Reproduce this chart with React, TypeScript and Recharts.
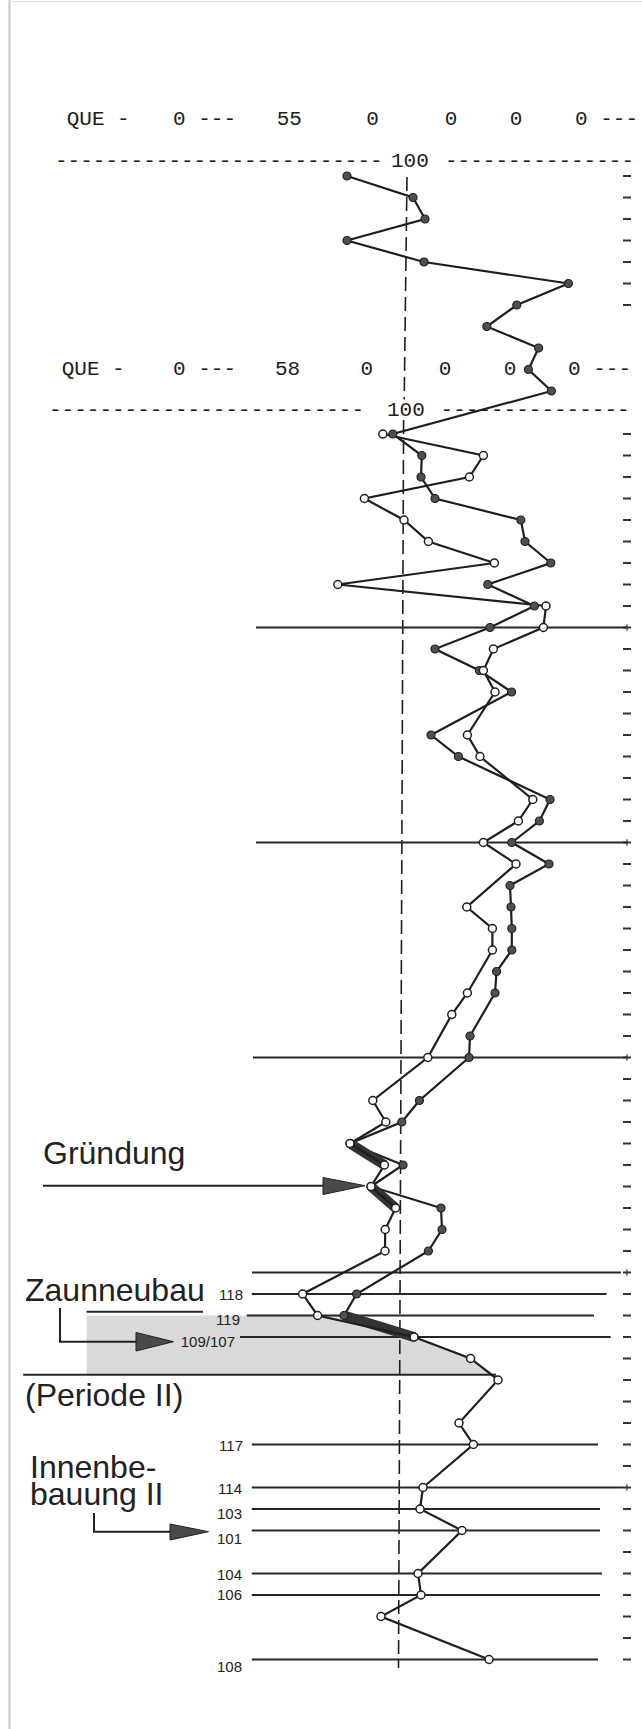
import React from 'react';
import { ComposedChart, XAxis, YAxis, Line, Area, ReferenceLine } from 'recharts';

// ---------- data (rows = ring/year rows from top, values = index, 100 = mean) ----------
const filledRows = [0, 1, 2, 3, 4, 5, 6, 7, 8, 9, 10, 12, 13, 14, 15, 16, 17, 18, 19, 20, 21, 22, 23, 24, 26, 27, 29, 30, 31, 32, 33, 34, 35, 36, 37, 38, 40, 41, 43, 44, 45, 46, 47, 48, 49, 50, 52, 53, 54];
const filledValues = [72, 105, 111, 72, 110.5, 182.7, 156.9, 141.9, 167.8, 162.7, 174.2, 94.9, 109.4, 109, 116, 158.9, 161, 173.9, 142.4, 165.7, 143.5, 116, 138.2, 154.3, 114, 127.7, 173.5, 168.2, 154.4, 173, 153.5, 154, 154.4, 154.4, 146.8, 146, 133.5, 133, 108.2, 99.4, 73.5, 100, 84, 119, 119.5, 112.7, 76.8, 70.5, 105.5];

const openRows = [12, 13, 14, 15, 16, 17, 18, 19, 20, 21, 22, 23, 24, 26, 27, 29, 30, 31, 32, 34, 35, 36, 38, 39, 41, 43, 44, 45, 46, 47, 48, 49, 50, 52, 53, 54, 55, 56, 58, 59, 61, 62, 63, 65, 66, 67, 69];
const openValues = [89.9, 140.2, 133.2, 80.7, 100.5, 112.7, 145.7, 67.4, 171.5, 170.2, 145.2, 140.2, 146, 132.2, 138.5, 164.9, 157.7, 140.2, 156.5, 131.9, 144.7, 144.7, 132.2, 124.4, 112.4, 84.9, 91.4, 73.5, 90.7, 84, 96.3, 91.1, 91, 49.8, 57.3, 105.5, 133.8, 147.5, 128, 135.2, 110, 108.5, 129.5, 107.5, 109, 89, 143];

// highlighted (thick) segments
const barRowsA = [45, 46];
const barValuesA = [73.5, 90.7];
const barRowsB = [47, 48];
const barValuesB = [84, 96.3];
const barRowsC = [53, 54];
const barValuesC = [70.5, 105.5];

// shaded band (Zaunneubau)
const shadeRows = [53, 54, 55, 55.75];
const shadeValues = [70.5, 105.5, 133.8, 146.5];

// right-hand row ticks
const tickRows = [0, 1, 2, 3, 4, 5, 6, ...Array.from({ length: 58 }, (_, i) => 12 + i)];
const plusRows = [21, 31, 41, 51, 61];

// texts
const header1 = ['QUE -', '0 ---', '55', '0', '0', '0', '0 ---'];
const header2 = ['QUE -', '0 ---', '58', '0', '0', '0', '0 ---'];
const lineLabels = ['118', '119', '109/107', '117', '114', '103', '101', '104', '106', '108'];

// ---------- layout ----------
const W = 642;
const H = 1729;
const X_MIN = -101.5;
const X_MAX = 219.5;
const TOP_PX = 176;
const ROW_PX = 21.5;
const Y_MIN = -TOP_PX / ROW_PX;
const Y_MAX = (H - TOP_PX) / ROW_PX;
const SHADE_BASE = -58.2;
const TICK_V = 212;

const pick = (rows: number[], vals: number[], r: number) => {
  const i = rows.indexOf(r);
  return i >= 0 ? vals[i] : null;
};

const allRows = Array.from(
  new Set([...filledRows, ...openRows, ...barRowsA, ...barRowsB, ...barRowsC, ...shadeRows])
).sort((a, b) => a - b);
const table = allRows.map((row) => ({
  row,
  filled: pick(filledRows, filledValues, row),
  open: pick(openRows, openValues, row),
  barA: pick(barRowsA, barValuesA, row),
  barB: pick(barRowsB, barValuesB, row),
  barC: pick(barRowsC, barValuesC, row),
  shade: pick(shadeRows, shadeValues, row),
}));

const INK = '#1e1e1e';

const ok = (v: any) => typeof v === 'number' && isFinite(v);

const filledDot = (p: any) => {
  const { cx, cy, index, payload } = p;
  if (!ok(cx) || !ok(cy) || payload == null || payload.filled == null) return <g key={`fd${index}`} />;
  return <circle key={`fd${index}`} cx={cx} cy={cy} r={4} fill="#4f4f4f" stroke={INK} strokeWidth={1.2} />;
};
const openDot = (p: any) => {
  const { cx, cy, index, payload } = p;
  if (!ok(cx) || !ok(cy) || payload == null || payload.open == null) return <g key={`od${index}`} />;
  return <circle key={`od${index}`} cx={cx} cy={cy} r={4} fill="#ffffff" stroke={INK} strokeWidth={1.5} />;
};

const hSeg = (row: number, x1: number, x2: number, key: string, w = 2) => (
  <ReferenceLine
    key={key}
    segment={[{ x: x1, y: row }, { x: x2, y: row }]}
    stroke="#262626"
    strokeWidth={w}
    ifOverflow="visible"
  />
);

const py = (row: number) => TOP_PX + ROW_PX * row;

export default function App() {
  const mono = "'Liberation Mono', 'DejaVu Sans Mono', monospace";
  const sans = "'Liberation Sans', Arial, Helvetica, sans-serif";
  const lineLabelX = [243, 240, 235, 243, 242, 242, 242, 242, 242, 242];
  const lineLabelY = [1299.5, 1324.5, 1347, 1450.5, 1494, 1519, 1544, 1579.5, 1599.5, 1672];

  const ruleExtents: [number, number, number][] = [
    [21, 26.5, 212],
    [31, 26.5, 212],
    [41, 25, 212],
    [51, 24.5, 209],
    [52, 24.4, 201.8],
    [53, 21.9, 195.5],
    [52.82, -58.2, 0],
    [54, 18.5, 203.8],
    [55.75, -89.9, 146.5],
    [59, 24.4, 197.5],
    [61, 24.4, 210],
    [62, 24.4, 198.5],
    [63, 24.4, 198.5],
    [65, 24.4, 199.5],
    [66, 24.4, 198.5],
    [69, 24.4, 197.5],
  ];

  const bar = (key: string) => (
    <Line
      key={key}
      dataKey={key}
      stroke="#333333"
      strokeWidth={10}
      strokeLinecap="butt"
      connectNulls
      dot={false}
      activeDot={false}
      isAnimationActive={false}
    />
  );

  return (
    <div style={{ position: 'absolute', left: 0, top: 0, width: W, height: H, background: '#ffffff', overflow: 'hidden' }}>
      <ComposedChart layout="vertical" width={W} height={H} data={table} margin={{ top: 0, right: 0, bottom: 0, left: 0 }}>
        <XAxis type="number" domain={[X_MIN, X_MAX]} hide allowDataOverflow />
        <YAxis type="number" dataKey="row" domain={[Y_MIN, Y_MAX]} hide allowDataOverflow />
        <Area
          dataKey="shade"
          baseValue={SHADE_BASE}
          fill="#d9d9d9"
          fillOpacity={1}
          stroke="none"
          dot={false}
          activeDot={false}
          isAnimationActive={false}
        />
        {/* mean (100) line, dashed */}
        <ReferenceLine segment={[{ x: 102, y: 0.05 }, { x: 100.6, y: 10.4 }]} stroke={INK} strokeWidth={1.6} strokeDasharray="14 6" ifOverflow="visible" />
        <ReferenceLine segment={[{ x: 100.3, y: 11.35 }, { x: 97.75, y: 69.4 }]} stroke={INK} strokeWidth={1.6} strokeDasharray="14 6" ifOverflow="visible" />
        {ruleExtents.map(([r, a, b], i) => hSeg(r, a, b, `rule${i}`))}
        {tickRows.map((r) => (
          <ReferenceLine key={`t${r}`} segment={[{ x: TICK_V - 2, y: r }, { x: TICK_V + 2, y: r }]} stroke="#333" strokeWidth={2} ifOverflow="visible" />
        ))}
        {plusRows.map((r) => (
          <ReferenceLine key={`p${r}`} segment={[{ x: TICK_V, y: r - 0.15 }, { x: TICK_V, y: r + 0.15 }]} stroke="#333" strokeWidth={1.2} ifOverflow="visible" />
        ))}
        <Line dataKey="filled" stroke={INK} strokeWidth={2.2} connectNulls dot={filledDot} activeDot={false} isAnimationActive={false} />
        {bar('barA')}
        {bar('barB')}
        {bar('barC')}
        <Line dataKey="open" stroke={INK} strokeWidth={2.2} connectNulls dot={openDot} activeDot={false} isAnimationActive={false} />
      </ComposedChart>

      <svg width={W} height={H} style={{ position: 'absolute', left: 0, top: 0, pointerEvents: 'none' }}>
        {/* scan border */}
        <rect x={8.5} y={0} width={2} height={H} fill="#c4c4c4" />
        <rect x={8.5} y={1} width={W} height={1} fill="#e2e2e2" />

        {/* header 1 */}
        <g fontFamily={mono} fontSize={21} fill="#1c1c1c">
          <text x={66.7} y={125}>{header1[0]}</text>
          <text x={173} y={125}>{header1[1]}</text>
          <text x={276.7} y={125}>{header1[2]}</text>
          <text x={372.5} y={125} textAnchor="middle">{header1[3]}</text>
          <text x={451} y={125} textAnchor="middle">{header1[4]}</text>
          <text x={516} y={125} textAnchor="middle">{header1[5]}</text>
          <text x={575} y={125}>{header1[6]}</text>
          <text x={55} y={167}>{'-'.repeat(26)}</text>
          <text x={391} y={167}>100</text>
          <text x={445} y={167}>{'-'.repeat(15)}</text>
        </g>
        {/* header 2 */}
        <g fontFamily={mono} fontSize={21} fill="#1c1c1c">
          <text x={61.7} y={375}>{header2[0]}</text>
          <text x={173} y={375}>{header2[1]}</text>
          <text x={275} y={375}>{header2[2]}</text>
          <text x={366.7} y={375} textAnchor="middle">{header2[3]}</text>
          <text x={445} y={375} textAnchor="middle">{header2[4]}</text>
          <text x={510} y={375} textAnchor="middle">{header2[5]}</text>
          <text x={568} y={375}>{header2[6]}</text>
          <text x={49} y={416}>{'-'.repeat(25)}</text>
          <text x={387} y={416}>100</text>
          <text x={440.6} y={416}>{'-'.repeat(15)}</text>
        </g>

        {/* annotations */}
        <g fontFamily={sans} fontSize={32} fill="#222">
          <text x={43} y={1164}>Gründung</text>
          <text x={25} y={1300.5}>Zaunneubau</text>
          <text x={25} y={1406}>(Periode II)</text>
          <text x={30} y={1478}>Innenbe-</text>
          <text x={30} y={1505}>bauung II</text>
        </g>
        <g fontFamily={sans} fontSize={15} fill="#222">
          {lineLabels.map((t, i) => (
            <text key={t} x={lineLabelX[i]} y={lineLabelY[i]} textAnchor="end">{t}</text>
          ))}
        </g>

        {/* arrows */}
        <g stroke="#222" strokeWidth={2} fill="none">
          <line x1={43} y1={py(47) - 0.8} x2={326} y2={py(47) - 0.8} />
          <path d="M60 1308 V1341.7 H140" />
          <path d="M94 1513 V1531.7 H172" />
        </g>
        <g fill="#4a4a4a" stroke="#222" strokeWidth={1}>
          <polygon points={`323,${py(47) - 9} 365,${py(47) - 0.8} 323,${py(47) + 8}`} />
          <polygon points="136,1332.5 173.5,1341.7 136,1351" />
          <polygon points="170,1524 208.5,1531.7 170,1540" />
        </g>
      </svg>
    </div>
  );
}
